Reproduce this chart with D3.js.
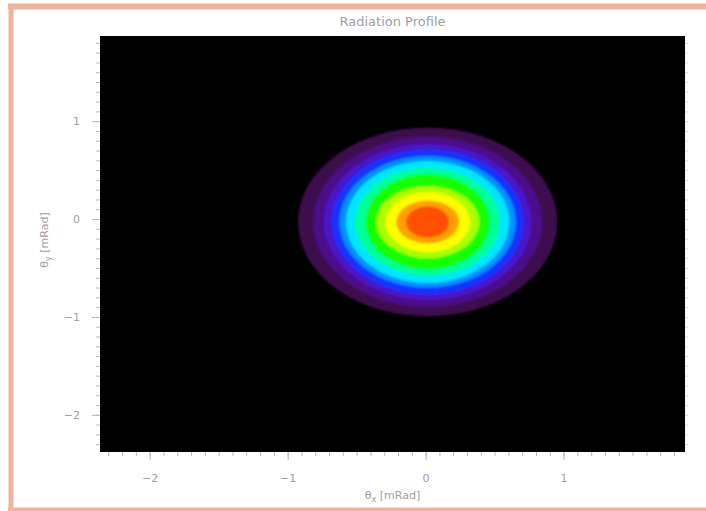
<!DOCTYPE html>
<html>
<head>
<meta charset="utf-8">
<script src="https://cdn.jsdelivr.net/npm/d3@7"></script>
<style>
  html, body { margin: 0; padding: 0; background: #fff; }
  svg { display: block; }
  text { font-family: "DejaVu Sans", sans-serif; }
</style>
</head>
<body>
<svg id="chart" width="706" height="511"></svg>
<script>
// ---- data ----
const title = "Radiation Profile";
const xLabel = "θx [mRad]";
const yLabel = "θy [mRad]";
const xDomain = [-2.36, 1.88];
const yDomain = [-2.38, 1.87];
const xMajorTicks = [-2, -1, 0, 1];
const yMajorTicks = [-2, -1, 0, 1];
const minorStep = 0.1;
// beam centre (mRad)
const centerX = [0.015];
const centerY = [-0.03];
// filled contour levels, outermost -> innermost
const levels = [1, 2, 3, 4, 5, 6, 7, 8, 9, 10, 11, 12];
const levelRadiusX = [0.94, 0.83, 0.755, 0.695, 0.64, 0.592, 0.525, 0.45, 0.374, 0.308, 0.228, 0.156];
const levelRadiusY = [0.965, 0.87, 0.80, 0.74, 0.673, 0.622, 0.551, 0.485, 0.37, 0.306, 0.219, 0.158];
const levelColors = ["#3c0c4e", "#4c0c88", "#4a12c8", "#1232ff", "#0090ff", "#00e6ff",
                     "#00ff98", "#12ff00", "#a8ff00", "#ffff00", "#ffa000", "#ff5000"];

// ---- layout ----
const svg = d3.select("#chart");
const plot = { left: 100, right: 685, top: 36, bottom: 452 };
const x = d3.scaleLinear().domain(xDomain).range([plot.left, plot.right]);
const y = d3.scaleLinear().domain(yDomain).range([plot.bottom, plot.top]);

// frame
const frameColor = "#f2b39e";
svg.append("line").attr("x1", 8).attr("x2", 706).attr("y1", 6.5).attr("y2", 6.5)
  .attr("stroke", frameColor).attr("stroke-width", 6);
svg.append("line").attr("x1", 11).attr("x2", 11).attr("y1", 4).attr("y2", 511)
  .attr("stroke", frameColor).attr("stroke-width", 5);
svg.append("line").attr("x1", 8).attr("x2", 706).attr("y1", 510).attr("y2", 510)
  .attr("stroke", frameColor).attr("stroke-width", 5);

// defs
const defs = svg.append("defs");
defs.append("clipPath").attr("id", "clip").append("rect")
  .attr("x", plot.left).attr("y", plot.top)
  .attr("width", plot.right - plot.left).attr("height", plot.bottom - plot.top);
const blur = defs.append("filter").attr("id", "soft")
  .attr("x", "-10%").attr("y", "-10%").attr("width", "120%").attr("height", "120%");
blur.append("feGaussianBlur").attr("stdDeviation", 1.1);

// plot background
svg.append("rect")
  .attr("x", plot.left).attr("y", plot.top)
  .attr("width", plot.right - plot.left).attr("height", plot.bottom - plot.top)
  .attr("fill", "#000");

// contour bands
const bandData = levels.map((lv, i) => ({
  level: lv, rx: levelRadiusX[i], ry: levelRadiusY[i], color: levelColors[i]
}));
svg.append("g").attr("clip-path", "url(#clip)")
  .append("g").attr("filter", "url(#soft)")
  .selectAll("ellipse").data(bandData).join("ellipse")
  .attr("cx", x(centerX[0]))
  .attr("cy", y(centerY[0]))
  .attr("rx", d => x(centerX[0] + d.rx) - x(centerX[0]))
  .attr("ry", d => y(centerY[0]) - y(centerY[0] + d.ry))
  .attr("fill", d => d.color);

// ticks
const tickColor = "#b8b8b8";
const textColor = "#a0a0a0";
const minorX = d3.range(Math.ceil(xDomain[0] / minorStep), Math.floor(xDomain[1] / minorStep) + 1).map(k => k * minorStep);
const minorY = d3.range(Math.ceil(yDomain[0] / minorStep), Math.floor(yDomain[1] / minorStep) + 1).map(k => k * minorStep);

const xAxis = d3.axisBottom(x).tickValues(minorX).tickSize(4).tickFormat("");
const gx = svg.append("g").attr("transform", `translate(0,${plot.bottom})`).call(xAxis);
const xMaj = d3.axisBottom(x).tickValues(xMajorTicks).tickSize(8).tickPadding(14)
  .tickFormat(d3.format("d"));
const gxm = svg.append("g").attr("transform", `translate(0,${plot.bottom})`).call(xMaj);

const yAxis = d3.axisLeft(y).tickValues(minorY).tickSize(4).tickFormat("");
const gy = svg.append("g").attr("transform", `translate(${plot.left},0)`).call(yAxis);
const yMaj = d3.axisLeft(y).tickValues(yMajorTicks).tickSize(8).tickPadding(12)
  .tickFormat(d3.format("d"));
const gym = svg.append("g").attr("transform", `translate(${plot.left},0)`).call(yMaj);

const yAxisR = d3.axisRight(y).tickValues(minorY).tickSize(3).tickFormat("");
const gyr = svg.append("g").attr("transform", `translate(${plot.right},0)`).call(yAxisR);

[gx, gxm, gy, gym, gyr].forEach(g => {
  g.select(".domain").remove();
  g.selectAll(".tick line").attr("stroke", tickColor).attr("stroke-width", 1);
  g.selectAll(".tick text").attr("fill", textColor).attr("font-size", 11);
});
gyr.selectAll(".tick line").attr("stroke", "#dcdcdc");

// title and axis labels
svg.append("text").attr("x", (plot.left + plot.right) / 2).attr("y", 26)
  .attr("text-anchor", "middle").attr("fill", textColor).attr("font-size", 13)
  .text(title);

const xl = svg.append("text").attr("x", (plot.left + plot.right) / 2).attr("y", 499)
  .attr("text-anchor", "middle").attr("fill", textColor).attr("font-size", 11);
xl.append("tspan").text("θ");
xl.append("tspan").attr("font-size", 8).attr("dy", 3).text("x");
xl.append("tspan").attr("dy", -3).text(" [mRad]");

const yl = svg.append("text")
  .attr("transform", `translate(48,${(plot.top + plot.bottom) / 2 - 4}) rotate(-90)`)
  .attr("text-anchor", "middle").attr("fill", textColor).attr("font-size", 11);
yl.append("tspan").text("θ");
yl.append("tspan").attr("font-size", 8).attr("dy", 3).text("y");
yl.append("tspan").attr("dy", -3).text(" [mRad]");
</script>
</body>
</html>
